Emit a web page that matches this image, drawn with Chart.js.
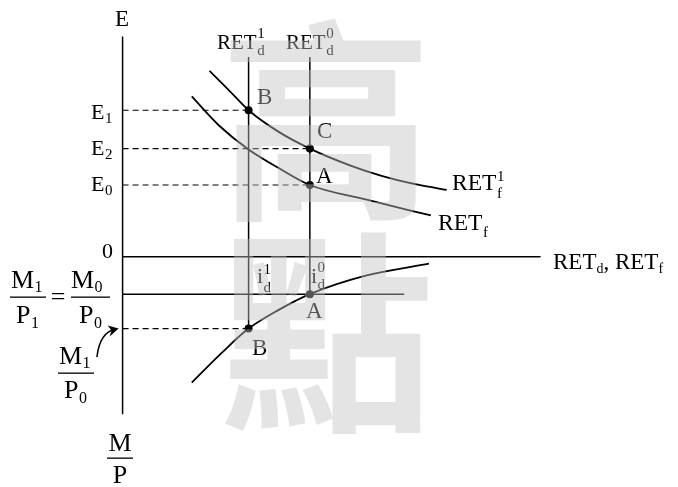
<!DOCTYPE html>
<html><head><meta charset="utf-8">
<script src="https://cdn.jsdelivr.net/npm/chart.js@4/dist/chart.umd.min.js"></script>
<style>html,body{margin:0;padding:0;background:#fff;}canvas{display:block;}</style>
</head><body>
<canvas id="c" width="678" height="487"></canvas>
<script>
// Diagram data (origin at the intersection of the E axis and the RET axis; y up)
const retF1 = [[88,189],[107,170],[127.5,149],[158,127],[189.5,110],[230,93],[263,82],[300,73],[328,68]];
const retF  = [[70,163],[97,134],[127.5,109],[160,89],[189.5,73],[247,58],[312,42]];
const money = [[70,-128],[100,-98],[127.5,-73],[158,-54],[189.5,-38],[247,-19],[310,-7]];
const retD1 = 127.5, retD0 = 189.5;          // RET_d^1, RET_d^0 positions
const eLevels = [149, 110, 73];              // E1, E2, E0
const eEnds   = [retD1, retD0, retD0];
const realM0 = -38, realM1 = -73;            // M0/P0 , M1/P0
const axisTop = 224, axisBottom = -160, axisRight = 423, m0LineRight = 285, retDTop = 203;
const pointsOn = [[retD1,149],[retD0,110],[retD0,73],[retD1,realM1],[retD0,realM0]];

const pts = a => a.map(p => ({x:p[0], y:p[1]}));
const line = (data, extra) => Object.assign({data, showLine:true, pointRadius:0, borderColor:'#000', borderWidth:1.5, fill:false, clip:false}, extra||{});

const datasets = [
  line([{x:0,y:axisTop},{x:0,y:axisBottom}]),
  line([{x:0,y:0},{x:axisRight,y:0}]),
  line([{x:0,y:realM0},{x:m0LineRight,y:realM0}]),
  line([{x:retD1,y:retDTop},{x:retD1,y:realM1}]),
  line([{x:retD0,y:retDTop},{x:retD0,y:realM0}]),
  ...eLevels.map((e,i)=>line([{x:0,y:e},{x:eEnds[i],y:e}], {borderDash:[6,4], borderWidth:1.2})),
  line([{x:0,y:realM1},{x:retD1,y:realM1}], {borderDash:[6,4], borderWidth:1.2}),
  line(pts(retF1), {cubicInterpolationMode:'monotone', borderWidth:1.8}),
  line(pts(retF),  {cubicInterpolationMode:'monotone', borderWidth:1.8}),
  line(pts(money), {cubicInterpolationMode:'monotone', borderWidth:1.8}),
  {data: pts(pointsOn), showLine:false, pointRadius:4, pointBackgroundColor:'#000', pointBorderWidth:0, clip:false}
];

const SERIF = '"Liberation Serif", "Times New Roman", serif';
function T(ctx, s, x, y, size, align){
  ctx.font = size + 'px ' + SERIF; ctx.textAlign = align || 'left'; ctx.textBaseline = 'alphabetic';
  ctx.fillText(s, x, y); return ctx.measureText(s).width;
}
function ret(ctx, main, x, y, size, sup, sub, supY, subY, ssize){
  const w = T(ctx, main, x, y, size);
  if (sup) T(ctx, sup, x + w + 0.5, supY, ssize);
  if (sub) T(ctx, sub, x + w + 0.5, subY, ssize);
}

const overlay = {
  id:'overlay',
  beforeDraw(chart){ const c = chart.ctx; c.save(); c.fillStyle='#fff'; c.fillRect(0,0,chart.width,chart.height); c.restore(); },
  afterDraw(chart){
    const c = chart.ctx, xs = chart.scales.x, ys = chart.scales.y;
    c.save(); c.fillStyle = '#000'; c.strokeStyle = '#000';
    T(c,'E',122,26,23,'center');
    ret(c,'E',91,119,22,null,'1',0,123,15);
    ret(c,'E',91,155,22,null,'2',0,159,15);
    ret(c,'E',91,191,22,null,'0',0,195,15);
    ret(c,'RET',217,49,21,'1','d',38,55,15);
    ret(c,'RET',286,49,21,'0','d',38,55,15);
    T(c,'B',257,104,23); T(c,'C',317,138,23); T(c,'A',316,183,23);
    ret(c,'RET',452,190,23.5,'1','f',181,198,15);
    ret(c,'RET',438,230,23.5,null,'f',0,237,15);
    let w = T(c,'RET',553,269,23); let w2 = T(c,'d',553+w,273,14);
    let w3 = T(c,', RET',553+w+w2,269,23); T(c,'f',553+w+w2+w3,273,14);
    T(c,'0',102,258,22);
    // fractions
    ret(c,'M',11,288,26,null,'1',0,292,16);
    ret(c,'P',16,323,26,null,'1',0,328,16);
    c.fillRect(10,296.5,36,1.3);
    T(c,'=',58,305,26,'center');
    ret(c,'M',71,288,26,null,'0',0,292,16);
    ret(c,'P',79,323,26,null,'0',0,328,16);
    c.fillRect(71,296.5,39,1.3);
    ret(c,'M',59,364,26,null,'1',0,368,16);
    ret(c,'P',64,398,26,null,'0',0,403,16);
    c.fillRect(58,372.5,36,1.3);
    T(c,'M',120,451,26,'center');
    c.fillRect(107,457.5,26,1.3);
    T(c,'P',120,483,26,'center');
    ret(c,'i',257,283,22,'1','d',274,292,15);
    ret(c,'i',311,283,22,'0','d',272,289,15);
    T(c,'A',306,318,23); T(c,'B',252,355,23);
    // curved arrow to the M1/P0 level
    const ax0 = xs.getPixelForValue(-26), ay0 = ys.getPixelForValue(-102);
    const ax1 = xs.getPixelForValue(-4), ay1 = ys.getPixelForValue(realM1);
    c.lineWidth = 1.5; c.beginPath(); c.moveTo(ax0, ay0);
    c.quadraticCurveTo(ax0 + 3, ay1 + 4, ax1 - 4, ay1 + 1); c.stroke();
    c.beginPath(); c.moveTo(ax1, ay1); c.lineTo(ax1 - 11, ay1 - 3); c.lineTo(ax1 - 7, ay1 + 2); c.lineTo(ax1 - 9, ay1 + 8); c.closePath(); c.fill();
    // watermark overlay
    c.fillStyle = 'rgba(193,193,193,0.44)';
    c.font = 'bold 214px "Noto Sans CJK TC", "Noto Sans CJK SC", sans-serif';
    c.textAlign = 'center'; c.textBaseline = 'middle';
    c.fillText('高', 326, 121);
    c.fillText('點', 327, 333);
    c.restore();
  }
};

new Chart(document.getElementById('c'), {
  type:'scatter',
  data:{datasets},
  options:{
    responsive:false, animation:false, events:[],
    layout:{padding:0},
    plugins:{legend:{display:false}, tooltip:{enabled:false}},
    scales:{
      x:{type:'linear', min:-120, max:558, display:false},
      y:{type:'linear', min:-230, max:257, display:false}
    }
  },
  plugins:[overlay]
});
</script>
</body></html>
